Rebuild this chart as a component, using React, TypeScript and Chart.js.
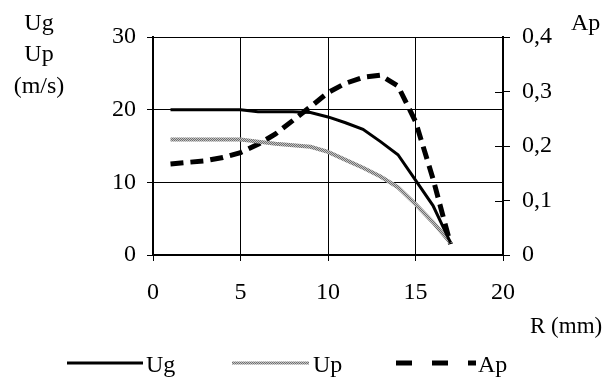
import React, { useEffect, useRef } from "react";
import { Chart, registerables } from "chart.js";

Chart.register(...registerables);

const R = [1, 2, 3, 4, 5, 6, 7, 8, 9, 10, 11, 12, 13, 14, 15, 16, 17];
const Ug = [20, 20, 20, 20, 20, 19.7, 19.7, 19.7, 19.6, 19.0, 18.2, 17.3, 15.6, 13.8, 10.3, 6.8, 1.7];
const Up = [15.9, 15.9, 15.9, 15.9, 15.9, 15.6, 15.3, 15.1, 14.9, 14.2, 13.1, 12.0, 10.8, 9.3, 7.0, 4.5, 1.7];
const Ap = [0.167, 0.17, 0.173, 0.179, 0.188, 0.203, 0.222, 0.247, 0.272, 0.298, 0.315, 0.326, 0.33, 0.31, 0.245, 0.14, 0.02];

const leftTitle = ["Ug", "Up", "(m/s)"];
const rightTitle = "Ap";
const xTitle = "R (mm)";
const legendNames = ["Ug", "Up", "Ap"];

const FAMILY = '"Liberation Serif", "Times New Roman", serif';
const FONT = "24px " + FAMILY;

function makePattern(): CanvasPattern | string {
  const c = document.createElement("canvas");
  c.width = 2;
  c.height = 2;
  const g = c.getContext("2d");
  if (!g) return "#999";
  g.fillStyle = "#c4c4c4";
  g.fillRect(0, 0, 2, 2);
  g.fillStyle = "#707070";
  g.fillRect(0, 0, 1, 1);
  g.fillRect(1, 1, 1, 1);
  const ctx = document.createElement("canvas").getContext("2d")!;
  return ctx.createPattern(c, "repeat") || "#999";
}

export default function App() {
  const ref = useRef<HTMLCanvasElement>(null);
  useEffect(() => {
    if (!ref.current) return;
    const grey = makePattern();
    const decor = {
      id: "decor",
      afterDraw(chart: any) {
        const ctx = chart.ctx as CanvasRenderingContext2D;
        const area = chart.chartArea;
        const y1 = chart.scales.y1;
        ctx.save();
        // inward ticks on the right axis
        ctx.strokeStyle = "#000";
        ctx.lineWidth = 1;
        [0.1, 0.2, 0.3].forEach((v) => {
          const py = Math.round(y1.getPixelForValue(v)) + 0.5;
          ctx.beginPath();
          ctx.moveTo(area.right - 8, py);
          ctx.lineTo(area.right, py);
          ctx.stroke();
        });
        ctx.fillStyle = "#000";
        ctx.font = FONT;
        ctx.textBaseline = "alphabetic";
        ctx.textAlign = "center";
        ctx.fillText(leftTitle[0], 39, 30);
        ctx.fillText(leftTitle[1], 39, 61);
        ctx.fillText(leftTitle[2], 39, 93);
        ctx.textAlign = "left";
        ctx.fillText(rightTitle, 571, 30);
        ctx.font = "23px " + FAMILY;
        ctx.fillText(xTitle, 530, 333);
        ctx.font = FONT;
        // legend
        const ly = 363;
        ctx.lineCap = "butt";
        ctx.strokeStyle = "#000";
        ctx.lineWidth = 3;
        ctx.beginPath();
        ctx.moveTo(67, ly);
        ctx.lineTo(143, ly);
        ctx.stroke();
        ctx.strokeStyle = grey as any;
        ctx.lineWidth = 3;
        ctx.beginPath();
        ctx.moveTo(232, ly);
        ctx.lineTo(309, ly);
        ctx.stroke();
        ctx.strokeStyle = "#000";
        ctx.lineWidth = 5;
        ctx.setLineDash([16, 20]);
        ctx.beginPath();
        ctx.moveTo(396, ly);
        ctx.lineTo(476, ly);
        ctx.stroke();
        ctx.setLineDash([]);
        ctx.fillText(legendNames[0], 146, 372);
        ctx.fillText(legendNames[1], 313, 372);
        ctx.fillText(legendNames[2], 478, 372);
        ctx.restore();
      },
    };
    const tickFont = { family: FAMILY, size: 24 };
    const chart = new Chart(ref.current, {
      type: "line",
      data: {
        datasets: [
          {
            label: "Ug",
            data: R.map((r, i) => ({ x: r, y: Ug[i] })),
            borderColor: "#000",
            borderWidth: 3,
            pointRadius: 0,
            yAxisID: "y",
          },
          {
            label: "Up",
            data: R.map((r, i) => ({ x: r, y: Up[i] })),
            borderColor: grey as any,
            borderWidth: 4,
            pointRadius: 0,
            yAxisID: "y",
          },
          {
            label: "Ap",
            data: R.map((r, i) => ({ x: r, y: Ap[i] })),
            borderColor: "#000",
            borderWidth: 5,
            borderDash: [13, 7],
            pointRadius: 0,
            yAxisID: "y1",
          },
        ],
      },
      options: {
        animation: false,
        responsive: false,
        events: [],
        layout: { padding: { top: 37, left: 0, right: 0, bottom: 0 } },
        plugins: { legend: { display: false }, tooltip: { enabled: false } },
        scales: {
          x: {
            type: "linear",
            min: 0,
            max: 20,
            ticks: { stepSize: 5, color: "#000", font: tickFont, padding: 17, maxRotation: 0 },
            grid: { color: "#000", lineWidth: 1, tickLength: 6 },
            border: { color: "#000", width: 2 },
            afterFit: (s: any) => { s.height = 126; },
          },
          y: {
            position: "left",
            min: 0,
            max: 30,
            ticks: { stepSize: 10, color: "#000", font: tickFont, padding: 11 },
            grid: { color: "#000", lineWidth: 1, tickLength: 6 },
            border: { color: "#000", width: 2 },
            afterFit: (s: any) => { s.width = 153; },
          },
          y1: {
            position: "right",
            min: 0,
            max: 0.4,
            ticks: {
              stepSize: 0.1,
              color: "#000",
              font: tickFont,
              padding: 12,
              callback: (v: any) => (Number(v) === 0 ? "0" : Number(v).toFixed(1).replace(".", ",")),
            },
            grid: { drawOnChartArea: false, color: "#000", lineWidth: 1, tickLength: 7 },
            border: { color: "#000", width: 2 },
            afterFit: (s: any) => { s.width = 106; },
          },
        },
      },
      plugins: [decor],
    } as any);
    return () => chart.destroy();
  }, []);
  return (
    <canvas
      ref={ref}
      width={609}
      height={381}
      style={{ position: "absolute", left: 0, top: 0, width: 609, height: 381, background: "#fff" }}
    />
  );
}
